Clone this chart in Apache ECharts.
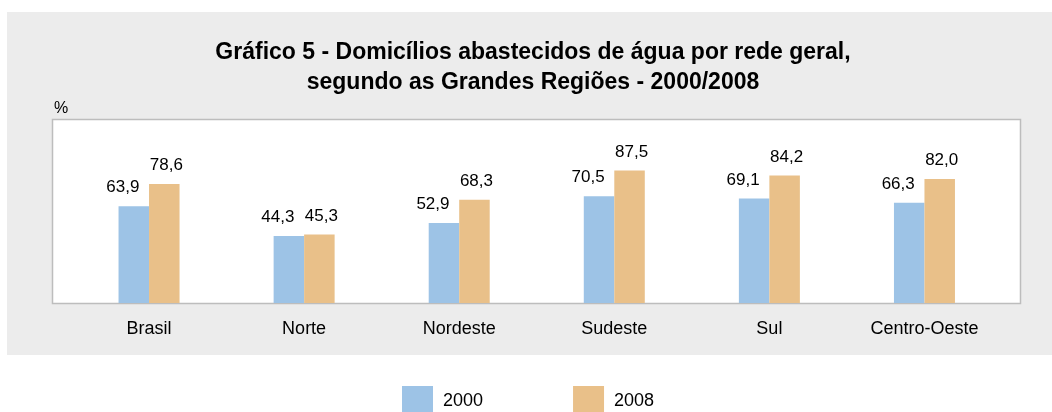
<!DOCTYPE html>
<html>
<head>
<meta charset="utf-8">
<script src="https://cdn.jsdelivr.net/npm/echarts@6/dist/echarts.min.js"></script>
<style>
  html, body { margin: 0; padding: 0; background: #fff; }
  #main { width: 1052px; height: 412px; }
</style>
</head>
<body>
<div id="main"></div>
<script>
// dados do gráfico
var regioes = ['Brasil', 'Norte', 'Nordeste', 'Sudeste', 'Sul', 'Centro-Oeste'];
var anos = ['2000', '2008'];
var valores2000 = [63.9, 44.3, 52.9, 70.5, 69.1, 66.3];
var valores2008 = [78.6, 45.3, 68.3, 87.5, 84.2, 82.0];

var fonte = '"Liberation Sans", Arial, sans-serif';

// rótulo com vírgula decimal
function rotulo(p) {
    return p.value.toFixed(1).replace('.', ',');
}

var myChart = echarts.init(document.getElementById('main'));
var option = {
    backgroundColor: '#fff',
    textStyle: { fontFamily: fonte },
    title: {
        text: 'Gráfico 5 - Domicílios abastecidos de água por rede geral,\nsegundo as Grandes Regiões - 2000/2008',
        left: 528,
        textAlign: 'center',
        top: 33,
        textStyle: {
            fontFamily: fonte,
            fontSize: 23,
            fontWeight: 'bold',
            color: '#000',
            lineHeight: 30
        }
    },
    graphic: [
        {
            type: 'rect',
            z: -10,
            shape: { x: 7, y: 12, width: 1045, height: 343 },
            style: { fill: '#ECECEC' }
        },
        {
            type: 'rect',
            z: -9,
            shape: { x: 52.5, y: 119.5, width: 968, height: 184 },
            style: { fill: '#fff', stroke: '#BDBDBD', lineWidth: 1.5 }
        },
        {
            type: 'text',
            left: 54,
            top: 101,
            style: { text: '%', fontSize: 16, fontFamily: fonte, fill: '#000' }
        }
    ],
    legend: {
        data: anos,
        icon: 'rect',
        top: 386,
        left: 402,
        padding: 0,
        itemWidth: 31,
        itemHeight: 31,
        itemGap: 90,
        textStyle: { fontSize: 18, color: '#000', fontFamily: fonte, padding: [0, 0, 0, 5] }
    },
    grid: {
        left: 71.5,
        right: 50,
        top: 121.4,
        bottom: 109
    },
    xAxis: {
        type: 'category',
        data: regioes,
        axisLine: { show: false },
        axisTick: { show: false },
        axisLabel: { fontSize: 18, color: '#000', margin: 17, fontFamily: fonte }
    },
    yAxis: {
        type: 'value',
        min: 0,
        max: 120,
        show: false,
        splitLine: { show: false }
    },
    series: [
        {
            name: anos[0],
            type: 'bar',
            data: valores2000,
            barWidth: 30.5,
            barGap: '0%',
            itemStyle: { color: '#9DC3E6' },
            label: {
                show: true,
                position: 'top',
                distance: 10,
                offset: [-11, 0],
                formatter: rotulo,
                fontSize: 17,
                color: '#000',
                fontFamily: fonte
            }
        },
        {
            name: anos[1],
            type: 'bar',
            data: valores2008,
            barWidth: 30.5,
            barGap: '0%',
            itemStyle: { color: '#E9C089' },
            label: {
                show: true,
                position: 'top',
                distance: 10,
                offset: [2, 0],
                formatter: rotulo,
                fontSize: 17,
                color: '#000',
                fontFamily: fonte
            }
        }
    ]
};
myChart.setOption(option);
</script>
</body>
</html>
